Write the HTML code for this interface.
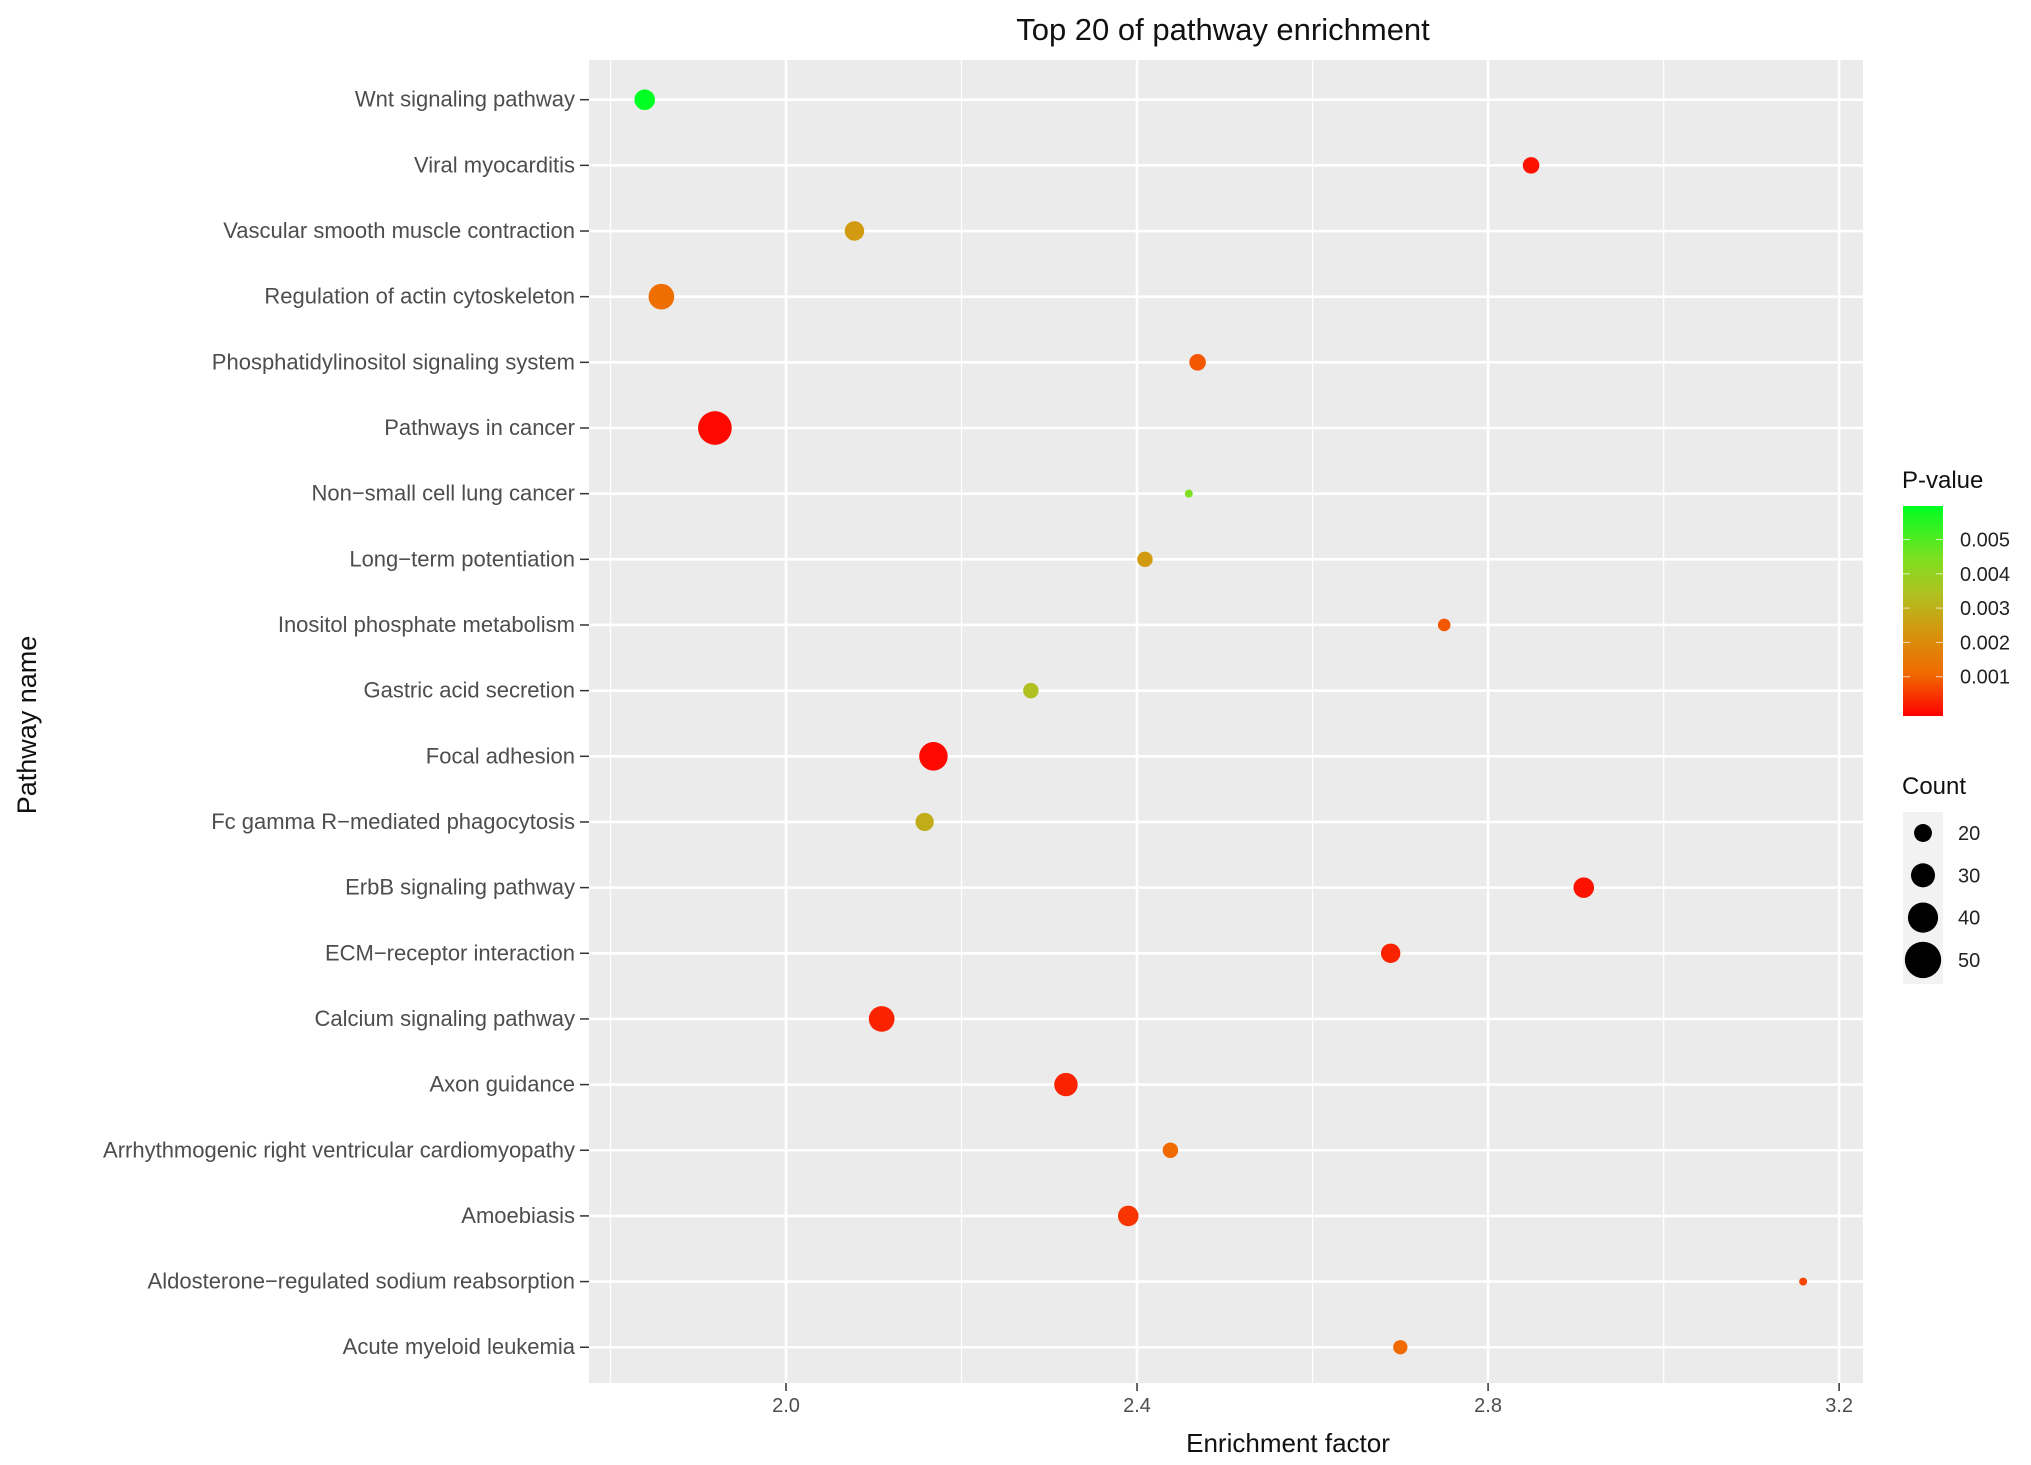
<!DOCTYPE html>
<html><head><meta charset="utf-8"><style>
html,body{margin:0;padding:0;background:#fff;}
svg{display:block;font-family:"Liberation Sans",Arial,sans-serif;}
</style></head><body>
<svg id="chart" width="2031" height="1465" viewBox="0 0 2031 1465" xmlns="http://www.w3.org/2000/svg">
<defs>
<linearGradient id="pgrad" x1="0" y1="1" x2="0" y2="0">
<stop offset="0" stop-color="#ff0000"/>
<stop offset="0.2" stop-color="#f06a00"/>
<stop offset="0.42" stop-color="#d29a10"/>
<stop offset="0.58" stop-color="#b0c020"/>
<stop offset="0.75" stop-color="#7ee020"/>
<stop offset="1" stop-color="#00ff22"/>
</linearGradient>
</defs>
<text x="1223" y="40" font-size="31" text-anchor="middle" fill="#111">Top 20 of pathway enrichment</text>
<rect x="589" y="60" width="1274" height="1323" fill="#ebebeb"/>
<g id="grid"></g>
<g id="ylabels"></g>
<g id="xticks"></g>
<g id="points"></g>
<text x="1288" y="1452" font-size="26" text-anchor="middle" fill="#111">Enrichment  factor</text>
<text transform="translate(36,725) rotate(-90)" font-size="27" text-anchor="middle" fill="#111">Pathway name</text>
<g>
<text x="1902" y="488" font-size="24" fill="#111">P-value</text>
<rect x="1903" y="506" width="40" height="210" fill="url(#pgrad)"/>
<g id="pticks"></g>
</g>
<g>
<text x="1902" y="794" font-size="24" fill="#111">Count</text>
<rect x="1903" y="812" width="40" height="172" fill="#f2f2f2"/>
<g id="cleg"></g>
</g>
</svg>
<script>
const categories=["Wnt signaling pathway","Viral myocarditis","Vascular smooth muscle contraction","Regulation of actin cytoskeleton","Phosphatidylinositol signaling system","Pathways in cancer","Non\u2212small cell lung cancer","Long\u2212term potentiation","Inositol phosphate metabolism","Gastric acid secretion","Focal adhesion","Fc gamma R\u2212mediated phagocytosis","ErbB signaling pathway","ECM\u2212receptor interaction","Calcium signaling pathway","Axon guidance","Arrhythmogenic right ventricular cardiomyopathy","Amoebiasis","Aldosterone\u2212regulated sodium reabsorption","Acute myeloid leukemia"];
const enrichment=[1.839,2.849,2.078,1.858,2.469,1.919,2.459,2.409,2.75,2.279,2.168,2.158,2.909,2.689,2.109,2.319,2.438,2.39,3.159,2.70];
const counts=[27,20,25,36,20,50,5,18,13,18,41,23,27,25,36,32,18,27,5,16];
const pvalues=[0.006,0.0002,0.0025,0.0013,0.001,0.0001,0.0045,0.0025,0.001,0.0035,0.0001,0.003,0.0002,0.0004,0.0004,0.0004,0.0012,0.0006,0.0008,0.0012];
const xTicks=[2.0,2.4,2.8,3.2];
const xMinor=[1.8,2.2,2.6,3.0];
const pTicks=[0.001,0.002,0.003,0.004,0.005];
const countKeys=[20,30,40,50];

const NS="http://www.w3.org/2000/svg";
function xs(v){return 786+(v-2.0)*877.6;}
function ys(i){return 99.7+i*65.66;}
function rs(c){return (2+0.22*c)*1.295;}
function ps(p){return 711-p*34300;}
const stops=[[0,[255,0,0]],[0.0012,[240,106,0]],[0.0025,[210,154,16]],[0.0035,[176,192,32]],[0.0045,[126,224,32]],[0.006,[0,255,34]]];
function col(p){
  for(let i=0;i<stops.length-1;i++){
    const a=stops[i],b=stops[i+1];
    if(p<=b[0]){const t=Math.max(0,(p-a[0])/(b[0]-a[0]));
      return 'rgb('+a[1].map((v,k)=>Math.round(v+(b[1][k]-v)*t)).join(',')+')';}
  }
  return 'rgb(0,255,34)';
}
function mk(tag,attrs,parent,text){const e=document.createElementNS(NS,tag);for(const k in attrs)e.setAttribute(k,attrs[k]);if(text!=null)e.textContent=text;parent.appendChild(e);return e;}

const grid=document.getElementById('grid');
xMinor.forEach(v=>{const l=mk('line',{x1:xs(v),x2:xs(v),y1:60,y2:1383,stroke:'#fff','stroke-width':1.3},grid);

});
xTicks.forEach(v=>{const l=mk('line',{x1:xs(v),x2:xs(v),y1:60,y2:1383,stroke:'#fff','stroke-width':2.6},grid);

});
categories.forEach((c,i)=>{const l=mk('line',{x1:589,x2:1863,y1:ys(i),y2:ys(i),stroke:'#fff','stroke-width':2.6},grid);

});

const yl=document.getElementById('ylabels');
categories.forEach((c,i)=>{
  const t=mk('text',{x:575,y:ys(i)+7,'font-size':22,'text-anchor':'end',fill:'#4d4d4d'},yl,c);
  
  
  mk('line',{x1:580,x2:589,y1:ys(i),y2:ys(i),stroke:'#333','stroke-width':1.5},yl);
});
const xt=document.getElementById('xticks');
xTicks.forEach(v=>{
  mk('line',{x1:xs(v),x2:xs(v),y1:1383,y2:1391,stroke:'#333','stroke-width':1.5},xt);
  const t=mk('text',{x:xs(v),y:1412,'font-size':20,'text-anchor':'middle',fill:'#4d4d4d'},xt,v.toFixed(1));
  
  
});
const pts=document.getElementById('points');
categories.forEach((c,i)=>{
  const d=mk('circle',{cx:xs(enrichment[i]),cy:ys(i),r:rs(counts[i]),fill:col(pvalues[i])},pts);
  
  
});
const pt=document.getElementById('pticks');
pTicks.forEach(p=>{
  mk('line',{x1:1903,x2:1910,y1:ps(p),y2:ps(p),stroke:'#fff','stroke-width':1,opacity:0.7},pt);
  mk('line',{x1:1936,x2:1943,y1:ps(p),y2:ps(p),stroke:'#fff','stroke-width':1,opacity:0.7},pt);
  const t=mk('text',{x:1960,y:ps(p)+7,'font-size':20,fill:'#222'},pt,p.toFixed(3));
  
  
});
const cl=document.getElementById('cleg');
countKeys.forEach((c,i)=>{
  const y=833+i*42.3;
  const k=mk('circle',{cx:1923,cy:y,r:rs(c)*1.08,fill:'#000'},cl);
  
  
  const t=mk('text',{x:1958,y:y+7,'font-size':20,fill:'#222'},cl,String(c));
  
  
});
</script>
</body></html>
